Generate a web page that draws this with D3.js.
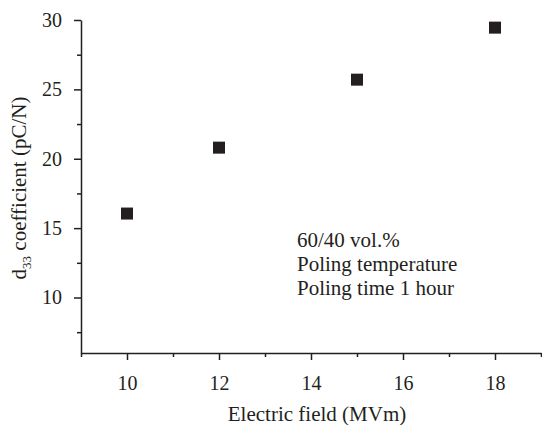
<!DOCTYPE html>
<html><head><meta charset="utf-8">
<script src="https://cdn.jsdelivr.net/npm/d3@7"></script>
<style>body{margin:0;background:#fff}svg{display:block}text{font-family:"Liberation Serif","Times New Roman",serif;fill:#231f20}</style>
</head><body><svg id="c" width="542" height="425"></svg>
<script>
const fieldMV = [10, 12, 15, 18];
const d33 = [16.05, 20.8, 25.7, 29.45];
const xTicks = [10, 12, 14, 16, 18];
const yTicks = [10, 15, 20, 25, 30];
const xMinor = [9, 11, 13, 15, 17, 19];
const yMinor = [7.5, 12.5, 17.5, 22.5, 27.5];
const notes = ["60/40 vol.%", "Poling temperature", "Poling time 1 hour"];

const svg = d3.select("#c");
const m = {l: 81, r: 541, t: 20, b: 353};
const x = d3.scaleLinear().domain([9, 19]).range([m.l, m.r]);
const y = d3.scaleLinear().domain([6, 30]).range([m.b, m.t]);
const col = "#231f20";
const ff = '"Liberation Serif","Times New Roman",serif';

const xa = svg.append("g").attr("transform", `translate(0,${m.b})`)
  .call(d3.axisBottom(x).tickValues(xTicks).tickFormat(d3.format("d")).tickSize(7).tickPadding(16).tickSizeOuter(0));
const xm = svg.append("g").attr("transform", `translate(0,${m.b})`)
  .call(d3.axisBottom(x).tickValues(xMinor).tickFormat("").tickSize(4).tickSizeOuter(0));
const ya = svg.append("g").attr("transform", `translate(${m.l},0)`)
  .call(d3.axisLeft(y).tickValues(yTicks).tickFormat(d3.format("d")).tickSize(7).tickPadding(12).tickSizeOuter(0));
const ym = svg.append("g").attr("transform", `translate(${m.l},0)`)
  .call(d3.axisLeft(y).tickValues(yMinor).tickFormat("").tickSize(4).tickSizeOuter(0));
[xa, xm, ya, ym].forEach(g => {
  g.attr("font-family", ff).attr("font-size", 20);
  g.selectAll("path,line").attr("stroke", col).attr("stroke-width", 1.5);
  g.selectAll("text").attr("fill", col);
});
xm.select("path").remove(); ym.select("path").remove();

svg.append("g").selectAll("rect").data(fieldMV.map((v, i) => [v, d33[i]])).join("rect")
  .attr("x", d => x(d[0]) - 6).attr("y", d => y(d[1]) - 6)
  .attr("width", 12).attr("height", 12).attr("fill", col);

svg.append("text").attr("x", 317).attr("y", 421).attr("text-anchor", "middle")
  .attr("font-size", 21).text("Electric field (MVm)");

const yt = svg.append("text").attr("transform", `translate(26,188) rotate(-90)`)
  .attr("text-anchor", "middle").attr("font-size", 21);
yt.append("tspan").text("d");
yt.append("tspan").attr("dy", 5).attr("font-size", 13).text("33");
yt.append("tspan").attr("dy", -5).text(" coefficient (pC/N)");

svg.append("g").selectAll("text").data(notes).join("text")
  .attr("x", 297).attr("y", (d, i) => 247 + i * 24).attr("font-size", 21).text(d => d);
</script></body></html>
